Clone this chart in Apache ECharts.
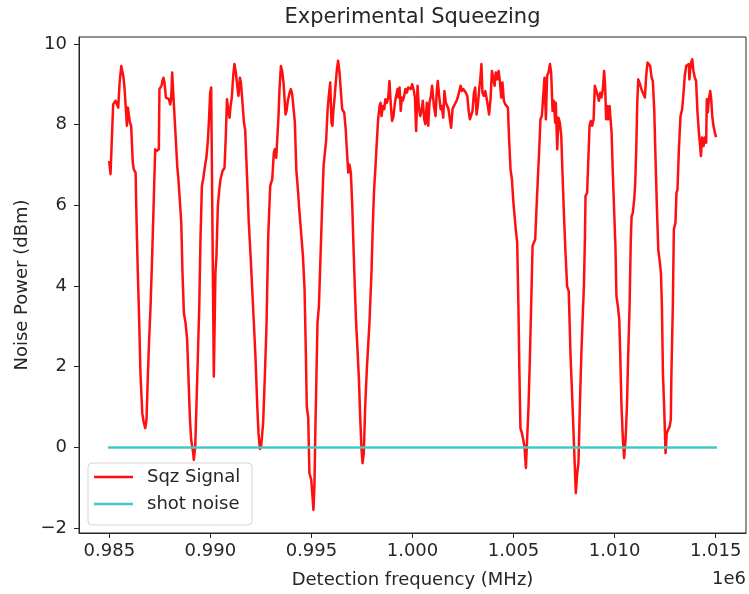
<!DOCTYPE html>
<html>
<head>
<meta charset="utf-8">
<script src="https://cdn.jsdelivr.net/npm/echarts@6/dist/echarts.min.js"></script>
<style>
  html, body { margin: 0; padding: 0; background: #fff; }
  #chart { width: 749px; height: 594px; }
</style>
</head>
<body>
<div id="chart"></div>
<script>
// Detection frequency of each sample (Hz)
const freqHz = [
  985000, 985010, 985060, 985190, 985310, 985390, 985440, 985510, 985590, 985690,
  985750, 985820, 985870, 985920, 985970, 986020, 986080, 986160, 986210, 986300,
  986350, 986410, 986480, 986540, 986630, 986710, 986780, 986840, 986910, 986970,
  987040, 987120, 987200, 987270, 987320, 987400, 987450, 987480, 987530, 987580,
  987630, 987680, 987730, 987800, 987860, 987950, 988010, 988060, 988110, 988140,
  988190, 988280, 988360, 988420, 988490, 988560, 988620, 988690, 988770, 988850,
  988920, 988990, 989050, 989100, 989150, 989180, 989250, 989310, 989380, 989450,
  989510, 989580, 989640, 989710, 989810, 989880, 989940, 989990, 990040, 990090,
  990170, 990250, 990300, 990370, 990440, 990500, 990600, 990700, 990770, 990820,
  990900, 990950, 991000, 991060, 991130, 991190, 991260, 991330, 991390, 991460,
  991510, 991570, 991660, 991720, 991820, 991900, 991990, 992070, 992150, 992230,
  992320, 992380, 992450, 992510, 992610, 992700, 992780, 992860,
  992960, 993060, 993140, 993190, 993260, 993320, 993370, 993420, 993490, 993550,
  993620, 993670, 993720, 993770, 993830, 993920, 993980, 994050, 994110, 994180,
  994250, 994330, 994410, 994490, 994580, 994660, 994710, 994770, 994840, 994900,
  994990, 995040, 995100, 995150, 995200, 995250, 995300, 995370, 995450, 995530,
  995600, 995660, 995730, 995800, 995860, 995930, 995990, 996040, 996090, 996140,
  996190, 996260, 996320, 996390, 996460, 996520, 996620, 996690, 996750, 996820,
  996880, 996950, 997020, 997080, 997150, 997210, 997280, 997350, 997410, 997480,
  997530, 997590, 997660, 997740, 997810, 997870, 997970, 998040, 998100, 998170,
  998240, 998300, 998370, 998420, 998470, 998530, 998600, 998660, 998730, 998800,
  998860, 998930, 998990, 999060, 999130, 999190, 999260, 999310, 999360, 999420,
  999470, 999520, 999590, 999650, 999720, 999790, 999850, 999920, 999980, 1000050,
  1000120, 1000180, 1000250, 1000310, 1000380, 1000450, 1000510, 1000580, 1000640, 1000710,
  1000780, 1000840, 1000910, 1000970, 1001060, 1001140,
  1001200, 1001250, 1001320, 1001390, 1001450, 1001520, 1001580, 1001650, 1001720, 1001780,
  1001850, 1001910, 1001980, 1002050, 1002110, 1002180, 1002240, 1002310, 1002380, 1002440,
  1002510, 1002570, 1002640, 1002710, 1002770, 1002840, 1002900, 1002970, 1003040, 1003100,
  1003170, 1003230, 1003300, 1003370, 1003410, 1003460, 1003530, 1003600, 1003660, 1003730,
  1003790, 1003860, 1003930, 1003990, 1004060, 1004120, 1004190, 1004260, 1004320, 1004390,
  1004450, 1004520, 1004590, 1004650, 1004720, 1004780, 1004850, 1004920, 1004980, 1005050,
  1005110, 1005180, 1005240, 1005290, 1005340, 1005410, 1005480, 1005540, 1005610, 1005670,
  1005740, 1005810, 1005870, 1005940, 1006000, 1006070, 1006140, 1006200, 1006270, 1006330,
  1006400, 1006470, 1006530, 1006600, 1006660, 1006730, 1006800, 1006860, 1006930, 1006990,
  1007060, 1007090, 1007160, 1007220, 1007290, 1007360, 1007420, 1007490, 1007570, 1007650,
  1007730, 1007820, 1007900, 1007980, 1008030, 1008080, 1008150, 1008210, 1008280, 1008350,
  1008410, 1008480, 1008530, 1008560, 1008640,
  1008760, 1008820, 1008890, 1008960, 1009020, 1009090, 1009150, 1009220, 1009290, 1009350,
  1009420, 1009480, 1009530, 1009580, 1009630, 1009680, 1009750, 1009800, 1009850, 1009910,
  1009980, 1010040, 1010090, 1010160, 1010230, 1010280, 1010340, 1010410, 1010470, 1010540,
  1010610, 1010670, 1010740, 1010800, 1010840, 1010900, 1010970, 1011020, 1011070, 1011120,
  1011170, 1011230, 1011300, 1011360, 1011430, 1011500, 1011560, 1011630, 1011690, 1011760,
  1011830, 1011890, 1011960, 1012020, 1012090, 1012160, 1012220, 1012290, 1012340, 1012390,
  1012450, 1012520, 1012580, 1012650, 1012720, 1012780, 1012810, 1012880, 1012930, 1013010,
  1013060, 1013110, 1013180, 1013260, 1013340, 1013410, 1013470, 1013540, 1013610, 1013670,
  1013700, 1013740, 1013790, 1013840, 1013900, 1013970, 1014030, 1014100, 1014170, 1014230,
  1014270, 1014330, 1014400, 1014460, 1014530, 1014560, 1014610, 1014660, 1014730, 1014780,
  1014830, 1014890, 1014960, 1015000
];

// Measured squeezed-light noise power (dBm)
const sqzSignal = [
  7.07, 7.04, 6.77, 8.50, 8.59, 8.63, 8.42, 9.04, 9.45, 9.21,
  8.92, 8.88, 7.97, 8.42, 8.38, 8.05, 7.97, 7.06, 6.89, 6.81,
  5.57, 4.33, 3.09, 1.84, 0.85, 0.60, 0.48, 0.69, 1.84, 2.67,
  3.50, 4.74, 6.15, 7.39, 7.34, 7.30, 7.39, 8.88, 8.92, 8.96,
  9.08, 9.16, 9.04, 8.67, 8.67, 8.63, 8.50, 8.63, 9.29, 9.33,
  8.54, 7.72, 6.97, 6.64, 6.60, 5.57, 4.33, 3.33, 3.09, 2.67,
  1.68, 0.69, 0.19, 0.02, -0.14, -0.31, 0.02, 1.02, 2.26, 3.50,
  5.15, 6.48, 6.64, 6.89, 7.22, 7.63, 8.21, 8.79, 8.92, 8.96,
  1.76, 4.33, 4.74, 5.98, 6.39, 6.64, 6.85, 6.93, 7.80, 8.63,
  8.30, 8.17, 8.46, 8.67, 9.21, 9.50, 9.29, 8.96, 8.71, 9.16,
  9.04, 8.67, 8.05, 7.88, 6.64, 5.57, 4.74, 3.91, 3.09, 2.26,
  1.02, 0.36, -0.04, 0.02, 0.60, 1.84, 3.09, 5.20,
  6.48, 6.64, 7.30, 7.39, 7.18, 7.14, 8.21, 8.88, 9.45, 9.33,
  9.04, 8.63, 8.25, 8.34, 8.59, 8.79, 8.88, 8.75, 8.79, 8.05,
  6.89, 6.39, 5.81, 5.32, 4.74, 3.91, 2.67, 1.02, 0.73, -0.64,
  -0.80, -1.13, -1.55, -0.89, 0.60, 1.84, 3.09, 3.50, 4.74, 5.98,
  6.97, 6.97, 7.63, 8.38, 8.71, 9.04, 8.05, 7.97, 8.38, 8.63,
  8.96, 9.37, 9.58, 9.29, 8.79, 8.38, 8.30, 7.92, 7.39, 6.81,
  7.01, 6.81, 5.98, 4.99, 3.91, 3.09, 2.42, 1.68, 0.77, -0.06,
  -0.39, -0.14, 1.02, 1.93, 1.97, 3.09, 4.33, 5.57, 6.39, 6.97,
  7.63, 8.13, 8.46, 8.54, 8.21, 8.46, 8.38, 8.63, 8.54, 8.67,
  9.08, 8.46, 8.09, 8.21, 8.54, 8.71, 8.88, 8.67, 8.92, 8.34,
  8.67, 8.59, 8.71, 8.88, 8.79, 8.92, 8.96, 8.88, 9.00, 8.88,
  8.67, 7.84, 8.96, 8.46, 8.21, 8.34, 8.59, 8.13, 8.01, 8.54,
  7.97, 8.54, 8.71, 8.96, 8.46, 8.21,
  8.83, 9.08, 8.71, 8.38, 8.46, 8.17, 8.83, 8.54, 8.46, 8.38,
  8.13, 7.92, 8.38, 8.46, 8.46, 8.59, 8.67, 8.67, 8.96, 8.83,
  8.88, 8.92, 8.79, 8.71, 8.38, 8.13, 8.17, 8.34, 8.79, 8.92,
  8.25, 8.46, 8.88, 9.21, 9.50, 8.79, 8.71, 8.83, 8.67, 8.46,
  8.25, 8.63, 9.33, 9.33, 8.96, 9.29, 9.12, 9.33, 9.08, 8.67,
  9.04, 8.59, 8.50, 8.54, 8.42, 7.63, 6.89, 6.64, 6.15, 5.73,
  5.40, 5.07, 3.50, 1.84, 0.48, 0.36, 0.19, 0.02, -0.51, 0.19,
  1.02, 2.26, 3.50, 4.99, 5.07, 5.15, 5.98, 6.64, 7.39, 8.13,
  8.21, 8.71, 9.16, 8.13, 9.21, 9.29, 9.50, 9.29, 8.34, 8.59,
  8.05, 8.54, 7.39, 8.17, 8.05, 7.72, 6.81, 5.81, 4.82, 3.99,
  3.87, 2.26, 1.27, 0.19, -0.47, -1.13, -0.64, -0.39, 1.02, 2.26,
  3.09, 3.99, 5.15, 6.23, 6.31,
  7.97, 8.09, 7.97, 8.13, 8.96, 9.00, 8.75, 8.59, 8.79, 8.67,
  8.88, 9.33, 8.96, 8.13, 8.46, 8.13, 8.46, 8.13, 7.80, 6.81,
  5.81, 4.99, 3.75, 3.50, 3.17, 2.26, 1.02, 0.19, -0.26, 0.19,
  1.02, 2.26, 3.50, 5.15, 5.73, 5.81, 6.15, 6.56, 7.39, 8.54,
  9.12, 9.04, 8.92, 8.83, 8.79, 8.67, 9.21, 9.54, 9.58, 9.45,
  9.16, 9.08, 8.38, 7.22, 5.98, 4.90, 4.66, 4.33, 3.50, 1.84,
  1.02, -0.14, 0.36, 0.40, 0.52, 0.69, 1.84, 3.50, 5.40, 5.57,
  6.31, 6.39, 7.39, 8.21, 8.38, 8.79, 9.21, 9.45, 9.45, 9.50,
  9.12, 9.37, 9.54, 9.62, 9.33, 9.16, 9.08, 8.30, 7.80, 7.47,
  7.22, 7.68, 7.47, 7.68, 7.55, 8.63, 8.30, 8.63, 8.83, 8.63,
  8.21, 7.97, 7.80, 7.72
];

// Shot-noise reference level (dBm) across the same span
const shotFreqHz = [985000, 1015000];
const shotNoise = [0, 0];

// Axis tick positions
const xTicks = [985000, 990000, 995000, 1000000, 1005000, 1010000, 1015000];
const yTicks = [-2, 0, 2, 4, 6, 8, 10];

const FONT = '"DejaVu Sans", "Liberation Sans", sans-serif';
const INK = '#262626';
const RED = '#ff0f0f';
const CYAN = '#44c8c4';

const sqzData = freqHz.map((f, i) => [f, sqzSignal[i]]);
const shotData = shotFreqHz.map((f, i) => [f, shotNoise[i]]);

const chart = echarts.init(document.getElementById('chart'), null, { renderer: 'canvas' });

chart.setOption({
  animation: false,
  backgroundColor: '#ffffff',
  grid: {
    left: 79, right: 3, top: 37, bottom: 61,
    show: true, borderColor: INK, borderWidth: 1, backgroundColor: 'transparent'
  },
  xAxis: {
    type: 'value',
    min: 983500,
    max: 1016500,
    axisLine: { show: true, onZero: false, lineStyle: { color: INK, width: 1 } },
    axisTick: { show: true, inside: false, length: 5, customValues: xTicks, lineStyle: { color: INK } },
    axisLabel: {
      customValues: xTicks,
      margin: 9,
      color: INK,
      fontSize: 18,
      fontFamily: FONT,
      formatter: v => (v / 1e6).toFixed(3)
    },
    splitLine: { show: false }
  },
  yAxis: {
    type: 'value',
    min: -2.12,
    max: 10.17,
    axisLine: { show: true, onZero: false, lineStyle: { color: INK, width: 1 } },
    axisTick: { show: true, inside: false, length: 5, customValues: yTicks, lineStyle: { color: INK } },
    axisLabel: {
      customValues: yTicks,
      margin: 12,
      color: INK,
      fontSize: 18,
      fontFamily: FONT,
      formatter: v => (v < 0 ? '\u2212' + Math.abs(v) : String(v))
    },
    splitLine: { show: false }
  },
  legend: {
    orient: 'vertical',
    left: 94,
    top: 468,
    icon: 'rect',
    itemWidth: 39,
    itemHeight: 2.6,
    itemGap: 9,
    padding: 0,
    z: 10,
    textStyle: { color: INK, fontSize: 18, fontFamily: FONT, padding: [0, 0, 0, 9] },
    data: [
      { name: 'Sqz Signal', itemStyle: { color: RED } },
      { name: 'shot noise', itemStyle: { color: CYAN } }
    ]
  },
  graphic: [
    {
      type: 'rect', z: 5,
      shape: { x: 88, y: 463, width: 164, height: 62, r: 4 },
      style: { fill: 'rgba(255,255,255,0.8)', stroke: '#d4d4d4', lineWidth: 1 }
    },
    {
      type: 'text', x: 412.5, y: 18,
      style: { text: 'Experimental Squeezing', fill: INK, font: '21px ' + FONT, textAlign: 'center', textVerticalAlign: 'middle' }
    },
    {
      type: 'text', x: 412.5, y: 580,
      style: { text: 'Detection frequency (MHz)', fill: INK, font: '18px ' + FONT, textAlign: 'center', textVerticalAlign: 'middle' }
    },
    {
      type: 'text', x: 746, y: 579,
      style: { text: '1e6', fill: INK, font: '18px ' + FONT, textAlign: 'right', textVerticalAlign: 'middle' }
    },
    {
      type: 'text', x: 22, y: 285, rotation: Math.PI / 2,
      style: { text: 'Noise Power (dBm)', fill: INK, font: '18px ' + FONT, textAlign: 'center', textVerticalAlign: 'middle' }
    }
  ],
  series: [
    {
      name: 'Sqz Signal',
      type: 'line',
      data: sqzData,
      symbol: 'none',
      showSymbol: false,
      lineStyle: { color: RED, width: 2.5, cap: 'square', join: 'round' },
      itemStyle: { color: RED },
      z: 2
    },
    {
      name: 'shot noise',
      type: 'line',
      data: shotData,
      symbol: 'none',
      showSymbol: false,
      lineStyle: { color: CYAN, width: 2.5, cap: 'square' },
      itemStyle: { color: CYAN },
      z: 2
    }
  ]
});
</script>
</body>
</html>
